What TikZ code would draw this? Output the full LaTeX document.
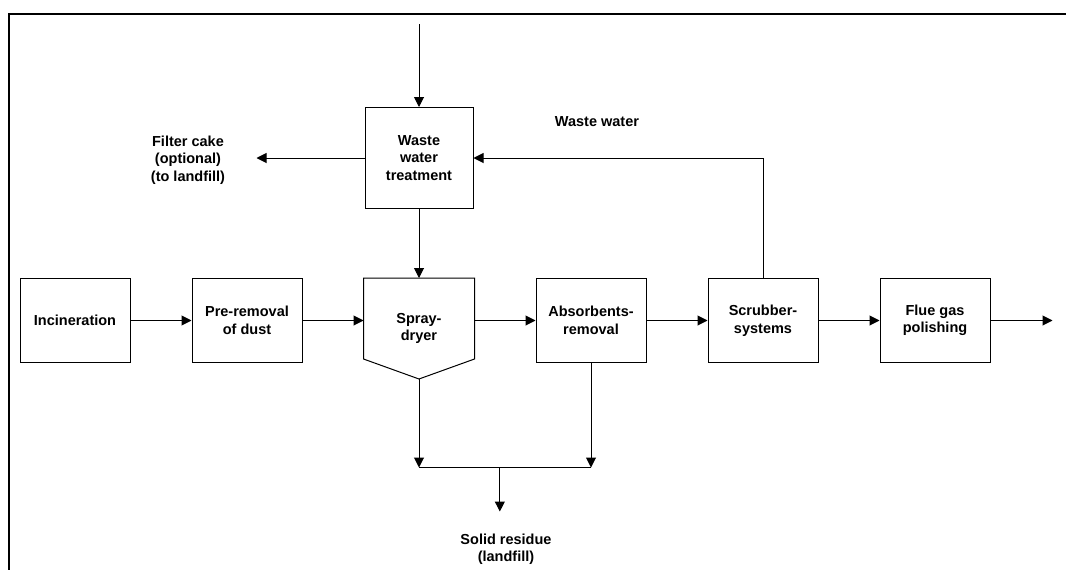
\documentclass[tikz,border=0pt]{standalone}
\usepackage{fontspec}
\setmainfont{Liberation Sans}
\usetikzlibrary{
    positioning,                      % right=of, above=of
    arrows.meta,                      % puntas Triangle
    calc                              % ($(a)+(0,1)$)
}
\tikzset{
    proc/.style={
        rectangle, draw, line width=1pt,
        minimum height=84pt, minimum width=110pt,
        align=center, inner sep=2pt
    },
    flow/.style={
        -{Triangle[length=10pt, width=10pt]}, line width=1pt
    },
    pipe/.style={
        line width=1pt
    },
    lbl/.style={
        align=center, inner sep=1pt
    }
}

\begin{document}
\begin{tikzpicture}[x=1pt, y=-1pt, node distance=61pt,
    font=\fontsize{14.5}{17.5}\selectfont\bfseries]

        \useasboundingbox (0,0) rectangle (1066,570);

        % Marco
        \draw[line width=2pt] (9,570) -- (9,14) -- (1066,14);

        % Linea principal de gases
        \node[proc] (inc) at (75,320.5) {Incineration};
        \node[proc, right=of inc] (pre) {Pre-removal\\of dust};
        % spray-dryer: caja de 100pt con punta de 20pt abajo
        \node[proc, draw=none, minimum height=100pt,
              right=61pt of pre.north east, anchor=north west] (spd) {Spray-\\dryer};
        \node[proc, right=61pt of spd.north east, anchor=north west] (abs) {Absorbents-\\removal};
        \node[proc, right=of abs] (scr) {Scrubber-\\systems};
        \node[proc, right=of scr] (flue) {Flue gas\\polishing};

        % Forma del spray-dryer
        \draw[pipe] (spd.north west) -- (spd.north east)
            -- ($(spd.south east)+(0,-20)$) -- (spd.south)
            -- ($(spd.south west)+(0,-20)$) -- cycle;

        % Tratamiento de aguas
        \node[proc, minimum width=108pt, minimum height=101pt, above=69pt of spd.north]
            (wwt) {Waste\\water\\treatment};
        \coordinate (wwin) at ($(wwt.north)+(0,-83)$);
        \node[lbl] (cake) at (188,160) {Filter cake\\(optional)\\(to landfill)};
        \coordinate (cakeend) at ($(wwt.west)+(-108,0)$);
        \node[lbl] (wwlbl) at (597,122) {Waste water};

        \draw[flow] (wwin) -- (wwt);
        \draw[flow] (wwt.west) -- (cakeend);
        \draw[flow] (wwt) -- (spd.north);
        \draw[flow] (scr.north) |- (wwt.east);

        % Flechas de la linea
        \draw[flow] (inc) -- (pre);
        \draw[flow] (pre) -- (pre -| spd.west);
        \draw[flow] (spd.east |- abs) -- (abs);
        \draw[flow] (abs) -- (scr);
        \draw[flow] (scr) -- (flue);
        \coordinate (gasout) at ($(flue.east)+(62,0)$);
        \draw[flow] (flue) -- (gasout);

        % Residuos solidos
        \coordinate (resl) at ($(spd.south)+(0,88.5)$);
        \coordinate (resr) at (abs.south |- resl);
        \coordinate (resm) at ($(resl)!0.47!(resr)$);
        \coordinate (resend) at ($(resm)+(0,44)$);
        \draw[flow] (spd.south) -- (resl);
        \draw[flow] (abs.south) -- (resr);
        \draw[pipe] (resl) -- (resr);
        \draw[flow] (resm) -- (resend);
        \node[lbl] (residue) at (506,549) {Solid residue\\(landfill)};

    \end{tikzpicture}
\end{document}
